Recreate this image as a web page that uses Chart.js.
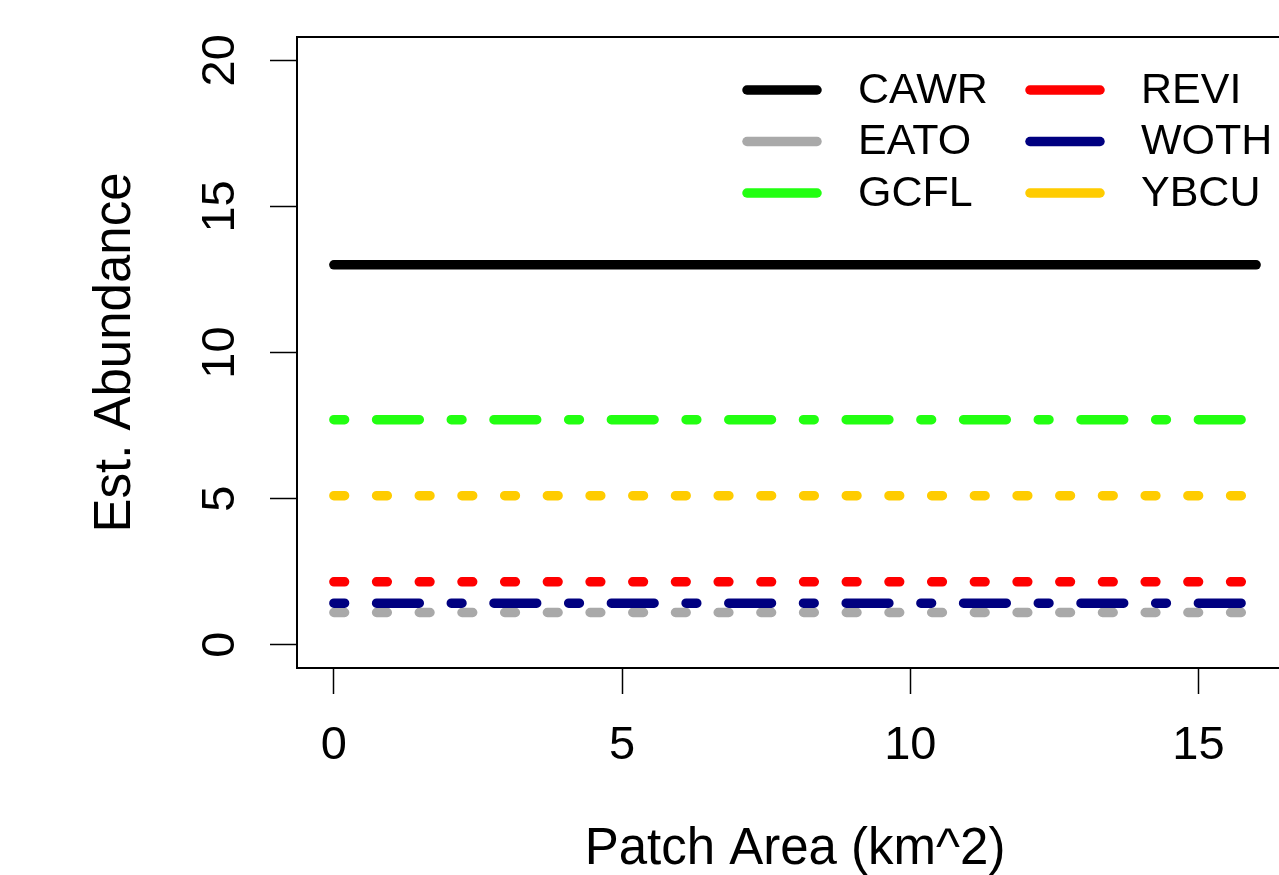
<!DOCTYPE html>
<html>
<head>
<meta charset="utf-8">
<script src="https://cdn.jsdelivr.net/npm/chart.js@4"></script>
<style>
  html, body { margin: 0; padding: 0; background: #fff; overflow: hidden; }
  #wrap { width: 1300px; height: 875px; }
</style>
</head>
<body>
<div id="wrap"><canvas id="c" width="1300" height="875"></canvas></div>
<script>
// ---- data ----
const patchArea = [0, 16];
const species = ["CAWR", "EATO", "GCFL", "REVI", "WOTH", "YBCU"];
const CAWR = [13.0, 13.0];
const EATO = [1.1, 1.1];
const GCFL = [7.7, 7.7];
const REVI = [2.15, 2.15];
const WOTH = [1.42, 1.42];
const YBCU = [5.1, 5.1];
const xTickValues = [0, 5, 10, 15];
const yTickValues = [0, 5, 10, 15, 20];
const xTitle = "Patch Area (km^2)";
const yTitle = "Est. Abundance";

// ---- styles ----
const FONT = "'Liberation Sans', Arial, Helvetica, sans-serif";
const FS = 47;        // tick labels
const FS_TITLE = 51;  // axis titles
const FS_LEG = 43;    // legend text
const LW = 9.5;
const DOTTED = [10.7, 32];
const DOTDASH = [10.7, 32, 42.7, 32];
const styles = {
  CAWR: { color: "#000000", dash: [] },
  EATO: { color: "#A9A9A9", dash: DOTTED },
  GCFL: { color: "#22FF11", dash: DOTDASH },
  REVI: { color: "#FF0000", dash: DOTTED },
  WOTH: { color: "#000080", dash: DOTDASH },
  YBCU: { color: "#FFCC00", dash: DOTTED }
};
const seriesValues = { CAWR, EATO, GCFL, REVI, WOTH, YBCU };

const datasets = species.map((name, i) => ({
  label: name,
  data: patchArea.map((x, j) => ({ x: x, y: seriesValues[name][j] })),
  borderColor: styles[name].color,
  backgroundColor: styles[name].color,
  borderWidth: LW,
  borderDash: styles[name].dash,
  borderCapStyle: "round",
  borderJoinStyle: "round",
  pointRadius: 0,
  fill: false,
  tension: 0,
  order: species.length - i
}));

// box around plot area (R style)
const boxPlugin = {
  id: "box",
  afterDraw(chart) {
    const { ctx, chartArea: a } = chart;
    ctx.save();
    ctx.strokeStyle = "#000";
    ctx.lineWidth = 2;
    ctx.strokeRect(a.left, a.top, a.right - a.left, a.bottom - a.top);
    ctx.restore();
  }
};

// rotated y tick labels (R las=0 style)
const yLabelPlugin = {
  id: "ylabels",
  afterDraw(chart) {
    const { ctx } = chart;
    const ys = chart.scales.y;
    ctx.save();
    ctx.fillStyle = "#000";
    ctx.font = FS + "px " + FONT;
    ctx.textAlign = "center";
    ctx.textBaseline = "middle";
    yTickValues.forEach(v => {
      const py = ys.getPixelForValue(v);
      ctx.save();
      ctx.translate(ys.right - 78, py);
      ctx.rotate(-Math.PI / 2);
      ctx.fillText(String(v), 0, 2);
      ctx.restore();
    });
    ctx.restore();
  }
};

// two-column legend, column-major, top right, no box
const legendPlugin = {
  id: "rlegend",
  afterDraw(chart) {
    const { ctx, chartArea: a } = chart;
    const ds = chart.data.datasets;
    const rows = 3;
    const colX = [742, 1025];
    const rowY0 = a.top + 53, rowGap = 51.5;
    ctx.save();
    ctx.font = FS_LEG + "px " + FONT;
    ctx.fillStyle = "#000";
    ctx.textAlign = "left";
    ctx.textBaseline = "middle";
    ds.forEach((d, i) => {
      const col = Math.floor(i / rows), row = i % rows;
      const x0 = colX[col], y = rowY0 + row * rowGap;
      ctx.beginPath();
      ctx.setLineDash([]);
      ctx.lineCap = "round";
      ctx.lineWidth = LW;
      ctx.strokeStyle = d.borderColor;
      ctx.moveTo(x0 + 5, y);
      ctx.lineTo(x0 + 75, y);
      ctx.stroke();
      ctx.fillText(d.label, x0 + 116, y + 1);
    });
    ctx.restore();
  }
};

const tickFont = { family: FONT, size: FS };

new Chart(document.getElementById("c"), {
  type: "line",
  data: { datasets },
  options: {
    responsive: false,
    animation: false,
    parsing: true,
    layout: { padding: { left: 0, top: 37, right: 7, bottom: 0 } },
    plugins: { legend: { display: false }, tooltip: { enabled: false } },
    scales: {
      x: {
        type: "linear",
        min: -0.64,
        max: 16.64,
        afterFit(s) { s.height = 207; },
        afterBuildTicks(s) { s.ticks = xTickValues.map(v => ({ value: v })); },
        grid: { drawOnChartArea: false, drawTicks: true, tickLength: 26, tickWidth: 1.5, tickColor: "#000" },
        border: { display: true, color: "#000", width: 2 },
        ticks: { font: tickFont, color: "#000", padding: 24, maxRotation: 0, autoSkip: false },
        title: { display: true, text: xTitle, color: "#000", font: { family: FONT, size: FS_TITLE, lineHeight: 1.0 }, padding: { top: 0, bottom: 0 } }
      },
      y: {
        type: "linear",
        min: -0.8,
        max: 20.8,
        afterFit(s) { s.width = 297; },
        afterBuildTicks(s) { s.ticks = yTickValues.map(v => ({ value: v })); },
        grid: { drawOnChartArea: false, drawTicks: true, tickLength: 27, tickWidth: 1.5, tickColor: "#000" },
        border: { display: true, color: "#000", width: 2 },
        ticks: { display: false },
        title: { display: true, text: yTitle, color: "#000", font: { family: FONT, size: FS_TITLE, lineHeight: 1.2 }, padding: { top: 85, bottom: 0 } }
      }
    }
  },
  plugins: [boxPlugin, yLabelPlugin, legendPlugin]
});
</script>
</body>
</html>
